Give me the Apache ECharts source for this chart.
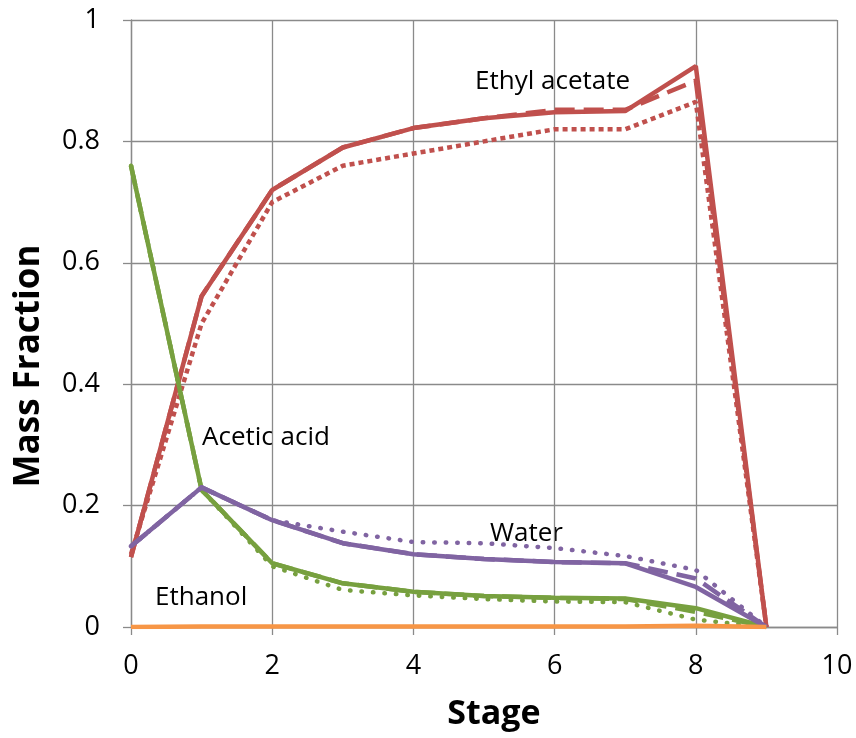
<!DOCTYPE html>
<html>
<head>
<meta charset="utf-8">
<script src="https://cdn.jsdelivr.net/npm/echarts@6/dist/echarts.min.js"></script>
<style>
  html, body { margin: 0; padding: 0; background: #fff; }
  #chart { width: 856px; height: 738px; }
</style>
</head>
<body>
<div id="chart"></div>
<script>
const stages = [0, 1, 2, 3, 4, 5, 6, 7, 8, 9]

// ethyl acetate
const ethylSolid = [0.115, 0.545, 0.72, 0.79, 0.822, 0.838, 0.848, 0.85, 0.924, 0]
const ethylDashed = [0.115, 0.545, 0.72, 0.79, 0.822, 0.838, 0.852, 0.852, 0.9, 0]
const ethylDotted = [0.12, 0.5, 0.7, 0.76, 0.78, 0.8, 0.82, 0.82, 0.865, 0]

// acetic acid
const aceticSolid = [0.76, 0.226, 0.105, 0.072, 0.058, 0.051, 0.048, 0.047, 0.031, 0]
const aceticDashed = [0.76, 0.226, 0.105, 0.072, 0.058, 0.051, 0.048, 0.046, 0.025, 0]
const aceticDotted = [0.76, 0.226, 0.1, 0.061, 0.052, 0.046, 0.042, 0.041, 0.012, 0]

// water
const waterSolid = [0.133, 0.23, 0.176, 0.138, 0.12, 0.112, 0.107, 0.105, 0.066, 0]
const waterDashed = [0.133, 0.23, 0.176, 0.138, 0.12, 0.112, 0.107, 0.105, 0.08, 0]
const waterDotted = [0.133, 0.23, 0.176, 0.157, 0.14, 0.138, 0.13, 0.117, 0.094, 0]

// ethanol
const ethanolSolid = [0, 0.001, 0.001, 0.001, 0.001, 0.001, 0.001, 0.001, 0.002, 0]

const RED = '#c0504d'
const GREEN = '#77a03f'
const PURPLE = '#8064a2'
const ORANGE = '#f79646'
const GRID = '#8a8a8a'
const FONT = '"Open Sans", Carlito, sans-serif'

const pairs = (vals) => stages.map((s, i) => [s, vals[i]])

const mkLine = (name, vals, color, type, cap) => ({
  name: name,
  type: 'line',
  data: pairs(vals),
  showSymbol: false,
  symbol: 'none',
  lineStyle: { color: color, width: 4.5, type: type, cap: cap || 'butt' },
  animation: false
})

const mkLabel = (text, x, y) => ({
  type: 'text',
  x: x,
  y: y,
  style: { text: text, font: '26px ' + FONT, fill: '#000', verticalAlign: 'middle' }
})

const chart = echarts.init(document.getElementById('chart'))

const option = {
  backgroundColor: '#fff',
  grid: { left: 131, right: 19, top: 20, bottom: 111 },
  xAxis: {
    type: 'value',
    min: 0,
    max: 10,
    interval: 2,
    axisLine: { show: true, lineStyle: { color: GRID, width: 1.3 } },
    axisTick: { show: true, length: 8, lineStyle: { color: GRID, width: 1.3 } },
    axisLabel: { fontFamily: FONT, fontSize: 27, color: '#000', margin: 26 },
    splitLine: { show: true, lineStyle: { color: GRID, width: 1.3 } }
  },
  yAxis: {
    type: 'value',
    min: 0,
    max: 1,
    interval: 0.2,
    axisLine: { show: true, lineStyle: { color: GRID, width: 1.3 } },
    axisTick: { show: true, length: 8, lineStyle: { color: GRID, width: 1.3 } },
    axisLabel: { fontFamily: FONT, fontSize: 27, color: '#000', margin: 31 },
    splitLine: { show: true, lineStyle: { color: GRID, width: 1.3 } }
  },
  series: [
    mkLine('Ethyl acetate dotted', ethylDotted, RED, [5, 4]),
    mkLine('Ethyl acetate dashed', ethylDashed, RED, [20, 9]),
    mkLine('Ethyl acetate', ethylSolid, RED, 'solid'),
    mkLine('Acetic acid dotted', aceticDotted, GREEN, [0.5, 11], 'round'),
    mkLine('Acetic acid dashed', aceticDashed, GREEN, [20, 9]),
    mkLine('Acetic acid', aceticSolid, GREEN, 'solid'),
    mkLine('Water dotted', waterDotted, PURPLE, [0.5, 11], 'round'),
    mkLine('Water dashed', waterDashed, PURPLE, [20, 9]),
    mkLine('Water', waterSolid, PURPLE, 'solid'),
    mkLine('Ethanol', ethanolSolid, ORANGE, 'solid')
  ],
  graphic: [
    mkLabel('Ethyl acetate', 475, 82),
    mkLabel('Acetic acid', 202, 438),
    mkLabel('Water', 490, 534),
    mkLabel('Ethanol', 155, 598),
    {
      type: 'text', x: 494, y: 714,
      style: { text: 'Stage', font: 'bold 34px ' + FONT, fill: '#000', align: 'center', verticalAlign: 'middle' }
    },
    {
      type: 'text', x: 29, y: 366, rotation: Math.PI / 2,
      style: { text: 'Mass Fraction', font: 'bold 35px ' + FONT, fill: '#000', align: 'center', verticalAlign: 'middle' }
    }
  ]
}

chart.setOption(option)
</script>
</body>
</html>
